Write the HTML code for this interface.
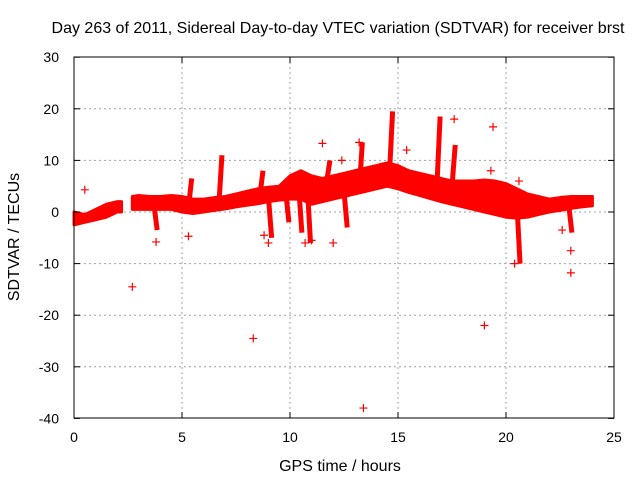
<!DOCTYPE html>
<html><head><meta charset="utf-8"><style>
body{margin:0;background:#fff}
svg{display:block;font-family:"Liberation Sans",sans-serif}
</style></head><body>
<svg id="c" width="640" height="480">
<text x="338" y="33" font-size="16" text-anchor="middle">Day 263 of 2011, Sidereal Day-to-day VTEC variation (SDTVAR) for receiver brst</text>
<text x="340" y="471" font-size="16" text-anchor="middle">GPS time / hours</text>
<text transform="translate(19,237) rotate(-90)" font-size="16" text-anchor="middle">SDTVAR / TECUs</text>
<g id="grid"></g><g id="data"></g><g id="axes"></g>
</svg>
<script>
const xTicks=[0,5,10,15,20,25];
const yTicks=[-40,-30,-20,-10,0,10,20,30];
const bandT=[0,0.5,1,1.5,2,2.2,null,2.7,3,3.5,4,4.5,5,5.5,6,6.5,7,7.5,8,8.5,9,9.5,10,10.5,11,11.5,12,12.5,13,13.5,14,14.5,15,15.5,16,16.5,17,17.5,18,18.5,19,19.5,20,20.5,21,21.5,22,22.5,23,23.5,24];
const bandLo=[-2.5,-2,-1.5,-1,0,0,null,0.5,0.5,0.5,0.5,0.5,0,-0.3,0,0.3,0.6,1,1.3,1.6,2,2.3,2.5,2.5,1.5,2,2.5,3,3.5,4,4.5,5,4.5,3.8,3.2,2.6,2,1.5,1,0.5,0,-0.5,-1,-1.2,-1,-0.5,0,0.3,0.7,1,1.2];
const bandHi=[0,-0.5,0.5,1.5,2,2,null,3,3.2,3,3,3.2,3,2.5,2.5,2.8,3,3.5,4,4.5,4.8,5,7,8,7,6.5,7,7.5,8,8.5,9,9.5,9,8,7.5,7,6.5,6,6,6,6.2,6,5.5,4.5,3.5,3,2.5,2.8,3,3,3];
const spikeT=[3.7,5.3,6.7,8.6,9.0,9.8,10.4,10.8,11.7,12.5,13.2,14.6,16.8,17.5,20.5,22.9];
const spikeBase=[1.5,1,1,3,3,4,5,5,6,4,4,7,5,5,2,1.5];
const spikeTop=[-3.5,6.5,11,8,-5,-2,-4,-6,10,-3,13.5,19.5,18.5,13,-10,-4];
const outX=[0.5,2.7,3.8,5.3,8.3,9.0,11.5,12.0,13.4,13.2,15.4,17.6,19.0,19.4,20.6,20.4,23.0,23.0,12.4,19.3,11.0,10.7,8.8,22.6];
const outY=[4.3,-14.5,-5.8,-4.7,-24.5,-6,13.3,-6,-38,13.5,12,18,-22,16.5,6,-10,-11.8,-7.5,10,8,-5.5,-6,-4.5,-3.5];
const X=t=>74+t*21.6, Y=v=>212-v*5.16;
const ns="http://www.w3.org/2000/svg";
function mk(tag,attrs,parent){const e=document.createElementNS(ns,tag);for(const k in attrs)e.setAttribute(k,attrs[k]);document.getElementById(parent).appendChild(e);return e;}
xTicks.forEach(t=>{
 if(t>0&&t<25){const g=mk('line',{x1:X(t),x2:X(t),y1:57,y2:418,stroke:'#a0a0a0','stroke-dasharray':'2,3'},'grid');
 
 }
 const tx=mk('text',{x:X(t),y:442,'font-size':14,'text-anchor':'middle'},'axes');tx.textContent=t;
 
 
 mk('line',{x1:X(t),x2:X(t),y1:418,y2:412,stroke:'#000'},'axes');mk('line',{x1:X(t),x2:X(t),y1:57,y2:63,stroke:'#000'},'axes');
});
yTicks.forEach(v=>{
 if(v>-40&&v<30){const g=mk('line',{x1:74,x2:614,y1:Y(v),y2:Y(v),stroke:'#a0a0a0','stroke-dasharray':'2,3'},'grid');
 
 }
 const tx=mk('text',{x:59,y:Y(v)+5,'font-size':14,'text-anchor':'end'},'axes');tx.textContent=v;
 
 
 mk('line',{x1:74,x2:80,y1:Y(v),y2:Y(v),stroke:'#000'},'axes');mk('line',{x1:608,x2:614,y1:Y(v),y2:Y(v),stroke:'#000'},'axes');
});
const fr=mk('rect',{x:74,y:57,width:540,height:361,fill:'none',stroke:'#000'},'axes');


let seg=[];
function flush(){if(seg.length<2){seg=[];return;}
 let d='M'+seg.map(i=>X(bandT[i])+','+Y(bandHi[i])).join('L')+'L'+seg.slice().reverse().map(i=>X(bandT[i])+','+Y(bandLo[i])).join('L')+'Z';
 const p=mk('path',{d:d,fill:'#f00',stroke:'#f00','stroke-width':3,'stroke-linejoin':'round'},'data');
 
 
 seg=[];}
bandT.forEach((t,i)=>{if(t===null)flush();else seg.push(i);});flush();
spikeT.forEach((t,i)=>{
 const l=mk('line',{x1:X(t),x2:X(t+0.15),y1:Y(spikeBase[i]),y2:Y(spikeTop[i]),stroke:'#f00','stroke-width':5},'data');
 
 
});
outX.forEach((t,i)=>{
 const x=X(t),y=Y(outY[i]);
 const p=mk('path',{d:`M${x-4},${y}H${x+4}M${x},${y-4}V${y+4}`,stroke:'#f00','stroke-width':1.2},'data');
 
 
});
</script>
</body></html>
